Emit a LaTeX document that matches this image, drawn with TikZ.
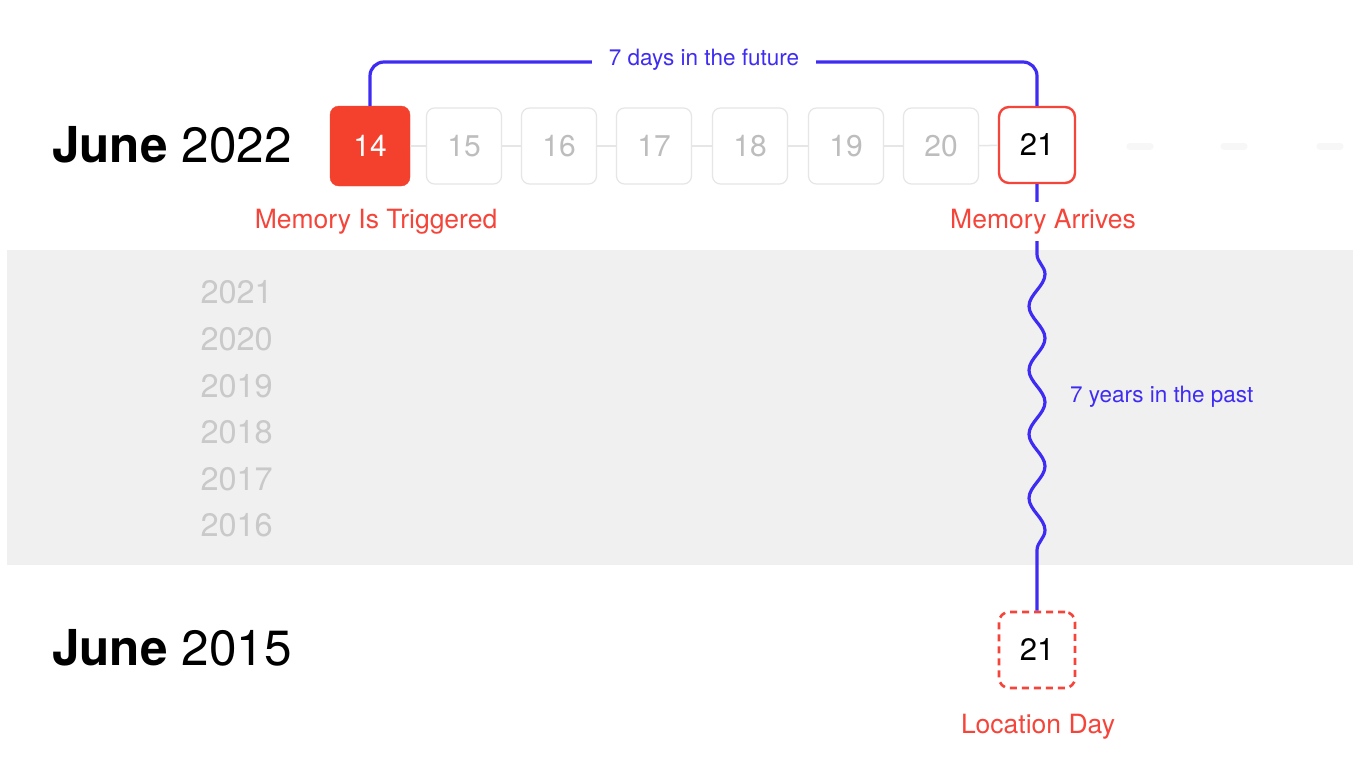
\documentclass[tikz,border=0pt]{standalone}
\usepackage{fontspec}
\setmainfont{TeX Gyre Heros}
\usetikzlibrary{decorations.pathmorphing}
\definecolor{appred}{HTML}{F4412D}
\definecolor{lblred}{HTML}{F5453A}
\definecolor{connblue}{HTML}{3F2CF2}
\definecolor{bandgray}{HTML}{F0F0F0}
\definecolor{boxgray}{HTML}{E6E6E6}
\definecolor{numgray}{HTML}{BDBDBD}
\definecolor{yeargray}{HTML}{C9C9C9}
\tikzset{
  daybox/.style={draw=boxgray, line width=1.2pt, rounded corners=8pt, minimum width=75pt, minimum height=76pt, inner sep=0pt, text=numgray, font=\fontsize{30}{34}\selectfont},
  todaybox/.style={fill=appred, draw=appred, rounded corners=9pt, minimum width=80pt, minimum height=80pt, inner sep=0pt, text=white, font=\fontsize{30}{34}\selectfont},
  arrivebox/.style={draw=lblred, fill=white, line width=2.4pt, rounded corners=10pt, minimum width=76pt, minimum height=76pt, inner sep=0pt, text=black, font=\fontsize{31}{34}\selectfont},
  locbox/.style={draw=lblred, fill=white, line width=2.6pt, dashed, dash pattern=on 7pt off 5pt, rounded corners=10pt, minimum width=76pt, minimum height=76pt, inner sep=0pt, text=black, font=\fontsize{31}{34}\selectfont},
  monthlbl/.style={anchor=base west, inner sep=0pt, font=\fontsize{49.5}{56}\selectfont},
  redlbl/.style={text=lblred, anchor=base, inner sep=0pt, font=\fontsize{26.5}{30}\selectfont},
  bluelbl/.style={text=connblue, inner sep=0pt, font=\fontsize{22.5}{26}\selectfont},
  yearlbl/.style={text=yeargray, anchor=base east, inner sep=0pt, font=\fontsize{32.5}{36}\selectfont},
  conn/.style={draw=connblue, line width=3.2pt},
  tick/.style={draw=boxgray, line width=1.5pt},
  ghost/.style={draw=gray!6, line width=7pt, line cap=round}
}
\begin{document}
\begin{tikzpicture}[x=1pt,y=-1pt]
\useasboundingbox (0,0) rectangle (1353,774);
\fill[white] (0,0) rectangle (1353,774);
% gray band
\fill[bandgray] (7,250) rectangle (1353,565);

% month labels
\node[monthlbl] (m2022) at (52,162) {\textbf{June} 2022};
\node[monthlbl] (m2015) at (52,665) {\textbf{June} 2015};

% years
\node[yearlbl] (y2021) at (273,303) {2021};
\node[yearlbl] (y2020) at (273,350) {2020};
\node[yearlbl] (y2019) at (273,397) {2019};
\node[yearlbl] (y2018) at (273,443) {2018};
\node[yearlbl] (y2017) at (273,490) {2017};
\node[yearlbl] (y2016) at (273,536) {2016};

% day boxes
\node[todaybox] (b14) at (370,146) {14};
\node[daybox] (b15) at (464,146) {15};
\node[daybox] (b16) at (559,146) {16};
\node[daybox] (b17) at (654,146) {17};
\node[daybox] (b18) at (750,146) {18};
\node[daybox] (b19) at (846,146) {19};
\node[daybox] (b20) at (941,146) {20};
\node[arrivebox] (b21) at (1037,145) {21};
\draw[tick] (b14) -- (b15);
\draw[tick] (b15) -- (b16);
\draw[tick] (b16) -- (b17);
\draw[tick] (b17) -- (b18);
\draw[tick] (b18) -- (b19);
\draw[tick] (b19) -- (b20);
\draw[tick] (b20) -- (b21);

% faint blurred boxes beyond
\coordinate (g1a) at (1130,146); \coordinate (g1b) at (1150,146);
\coordinate (g2a) at (1224,146); \coordinate (g2b) at (1244,146);
\coordinate (g3a) at (1320,146); \coordinate (g3b) at (1340,146);
\draw[ghost] (g1a) -- (g1b);
\draw[ghost] (g2a) -- (g2b);
\draw[ghost] (g3a) -- (g3b);

% location day box
\node[locbox] (l21) at (1037,650) {21};

% top connector
\coordinate (tl) at (370,62);
\coordinate (tr) at (1037,62);
\draw[conn, rounded corners=14pt] (b14.north) -- (tl) -- (tr) -- (b21.north);
\node[bluelbl, fill=white, inner xsep=17pt, inner ysep=4pt] (future) at (704,60) {7 days in the future};

% wavy connector
\draw[conn, decorate, decoration={snake, amplitude=8pt, segment length=64pt, pre length=70pt, post length=36pt}] (b21.south) -- (l21.north);
\node[bluelbl, anchor=base west] (past) at (1070,402) {7 years in the past};

% labels
\node[redlbl] (trig) at (376,228) {Memory Is Triggered};
\node[redlbl, fill=white, inner ysep=7pt, inner xsep=2pt] (arr) at (1043,228) {Memory Arrives};
\node[redlbl] (loc) at (1038,733) {Location Day};
\end{tikzpicture}
\end{document}
